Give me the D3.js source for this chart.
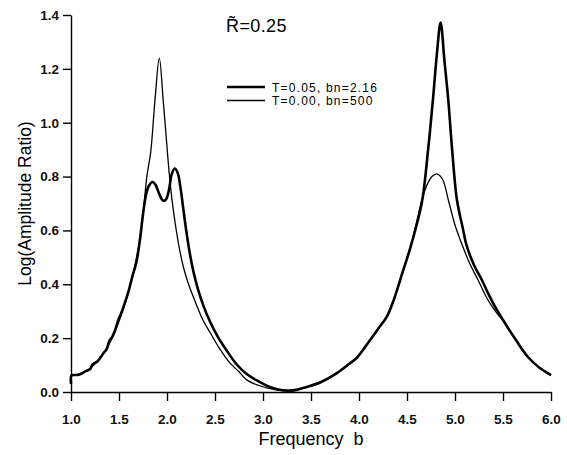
<!DOCTYPE html>
<html>
<head>
<meta charset="utf-8">
<script src="https://cdn.jsdelivr.net/npm/d3@7"></script>
<style>
  body { margin: 0; background: #fff; }
  svg { font-family: "Liberation Sans", Arial, sans-serif; }
</style>
</head>
<body>
<script>
// T=0.05, bn=2.16 (thick)
const freqThick = [1.00, 1.005, 1.04, 1.08, 1.11, 1.14, 1.17, 1.20, 1.22, 1.25, 1.28, 1.31, 1.34, 1.37, 1.40, 1.43, 1.46, 1.49, 1.52, 1.56, 1.60, 1.64, 1.68, 1.72, 1.75, 1.78, 1.81, 1.85, 1.88, 1.92, 1.96, 1.99, 2.02, 2.05, 2.08, 2.11, 2.14, 2.17, 2.20, 2.24, 2.28, 2.32, 2.38, 2.45, 2.53, 2.62, 2.72, 2.82, 2.94, 3.05, 3.15, 3.25, 3.35, 3.45, 3.60, 3.77, 3.90, 3.98, 4.11, 4.20, 4.29, 4.36, 4.45, 4.53, 4.60, 4.66, 4.72, 4.77, 4.81, 4.85, 4.89, 4.93, 4.97, 5.02, 5.08, 5.12, 5.20, 5.28, 5.34, 5.42, 5.52, 5.64, 5.76, 5.88, 6.00]
const ampThick  = [0.03, 0.062, 0.063, 0.064, 0.068, 0.075, 0.080, 0.085, 0.100, 0.108, 0.115, 0.130, 0.145, 0.158, 0.190, 0.205, 0.230, 0.265, 0.290, 0.330, 0.375, 0.430, 0.480, 0.570, 0.660, 0.730, 0.765, 0.780, 0.770, 0.735, 0.710, 0.715, 0.750, 0.810, 0.830, 0.815, 0.760, 0.680, 0.600, 0.510, 0.440, 0.385, 0.320, 0.260, 0.205, 0.155, 0.105, 0.070, 0.042, 0.022, 0.010, 0.005, 0.008, 0.018, 0.036, 0.070, 0.105, 0.128, 0.190, 0.235, 0.280, 0.340, 0.440, 0.530, 0.620, 0.714, 0.900, 1.085, 1.250, 1.372, 1.230, 1.085, 0.900, 0.714, 0.610, 0.545, 0.470, 0.416, 0.370, 0.315, 0.256, 0.190, 0.130, 0.090, 0.063]

// T=0.00, bn=500 (thin)
const freqThin = [1.00, 1.10, 1.20, 1.30, 1.40, 1.50, 1.60, 1.70, 1.75, 1.79, 1.83, 1.875, 1.92, 1.96, 2.00, 2.02, 2.05, 2.08, 2.12, 2.17, 2.22, 2.30, 2.37, 2.45, 2.55, 2.65, 2.75, 2.83, 2.95, 3.05, 3.15, 3.25, 3.35, 3.45, 3.60, 3.77, 3.90, 3.98, 4.11, 4.20, 4.29, 4.36, 4.45, 4.53, 4.60, 4.66, 4.71, 4.76, 4.81, 4.87, 4.93, 5.00, 5.06, 5.15, 5.24, 5.33, 5.42, 5.52, 5.64, 5.76, 5.88, 6.00]
const ampThin  = [0.060, 0.068, 0.088, 0.125, 0.180, 0.262, 0.372, 0.530, 0.660, 0.800, 0.890, 1.085, 1.240, 1.085, 0.910, 0.825, 0.720, 0.640, 0.550, 0.465, 0.405, 0.330, 0.270, 0.220, 0.160, 0.110, 0.075, 0.045, 0.025, 0.014, 0.007, 0.004, 0.008, 0.018, 0.036, 0.070, 0.105, 0.128, 0.190, 0.235, 0.280, 0.340, 0.440, 0.530, 0.630, 0.720, 0.770, 0.800, 0.810, 0.790, 0.714, 0.620, 0.560, 0.480, 0.416, 0.350, 0.300, 0.256, 0.190, 0.130, 0.090, 0.063]

const xTicks = [1.0, 1.5, 2.0, 2.5, 3.0, 3.5, 4.0, 4.5, 5.0, 5.5, 6.0]
const yTicks = [0.0, 0.2, 0.4, 0.6, 0.8, 1.0, 1.2, 1.4]

const legendLabels = ['T=0.05, bn=2.16', 'T=0.00, bn=500']

const w = 567
const h = 455
const margin = { top: 15, right: 16, bottom: 63, left: 71 }

const svg = d3.select('body').append('svg')
    .attr('width', w)
    .attr('height', h)

const x = d3.scaleLinear()
    .domain([1, 6])
    .range([margin.left, w - margin.right])

const y = d3.scaleLinear()
    .domain([0, 1.4])
    .range([h - margin.bottom, margin.top])

svg.append('g')
    .attr('transform', `translate(0, ${h - margin.bottom})`)
    .call(d3.axisBottom(x)
        .tickValues(xTicks)
        .tickFormat(d3.format('.1f'))
        .tickSize(9)
        .tickSizeOuter(0)
        .tickPadding(13))

svg.append('g')
    .attr('transform', `translate(${margin.left}, 0)`)
    .call(d3.axisLeft(y)
        .tickValues(yTicks)
        .tickFormat(d3.format('.1f'))
        .tickSize(8)
        .tickSizeOuter(0)
        .tickPadding(4))

svg.selectAll('.domain, .tick line')
    .attr('stroke', '#000')
    .attr('stroke-width', 1.4)

svg.selectAll('.tick text')
    .attr('fill', '#111')
    .style('font-size', '13.5px')
    .style('font-weight', 'bold')

svg.append('text')
    .attr('x', (margin.left + w - margin.right) / 2)
    .attr('y', 445)
    .attr('text-anchor', 'middle')
    .style('font-size', '18px')
    .style('white-space', 'pre')
    .text('Frequency  b')

svg.append('text')
    .attr('transform', `translate(31, ${(margin.top + h - margin.bottom) / 2}) rotate(-90)`)
    .attr('text-anchor', 'middle')
    .style('font-size', '17.5px')
    .text('Log(Amplitude Ratio)')

// title, R with a combining tilde
svg.append('text')
    .attr('x', 226)
    .attr('y', 32)
    .style('font-size', '18px')
    .style('letter-spacing', '0.4px')
    .text('R\u0303=0.25')

const line = d3.line()
    .x(d => x(d[0]))
    .y(d => y(d[1]))
    .curve(d3.curveCatmullRom.alpha(0.5))

const thick = freqThick.map((b, i) => [b, ampThick[i]])
const thin = freqThin.map((b, i) => [b, ampThin[i]])

svg.append('path')
    .datum(thin)
    .attr('fill', 'none')
    .attr('stroke', '#000')
    .attr('stroke-width', 1.3)
    .attr('d', line)

svg.append('path')
    .datum(thick)
    .attr('fill', 'none')
    .attr('stroke', '#000')
    .attr('stroke-width', 2.6)
    .attr('d', line)

const legend = svg.selectAll('.legend')
    .data(legendLabels)
    .enter()
    .append('g')
        .attr('class', 'legend')
        .attr('transform', (d, i) => `translate(227, ${87 + i * 13.5})`)

legend.append('line')
    .attr('x1', 0)
    .attr('x2', 38)
    .attr('stroke', '#000')
    .attr('stroke-width', (d, i) => i === 0 ? 2.6 : 1.3)

legend.append('text')
    .attr('x', 45)
    .attr('y', 4.5)
    .style('font-size', '12px')
    .style('letter-spacing', '1.2px')
    .text(d => d)
</script>
</body>
</html>
